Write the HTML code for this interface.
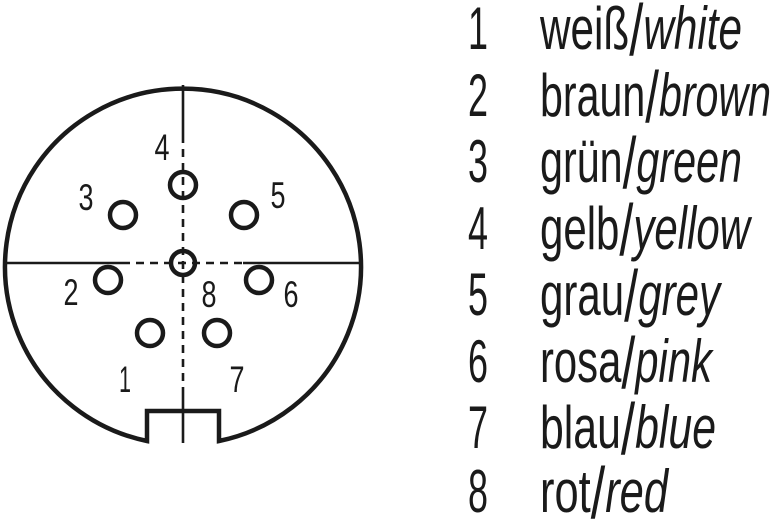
<!DOCTYPE html>
<html><head><meta charset="utf-8"><style>
html,body{margin:0;padding:0;background:#fff;}
svg{display:block;}
text{font-family:"Liberation Sans",sans-serif;fill:#1a1a1a;}
</style></head><body>
<svg width="771" height="527" viewBox="0 0 771 527" xmlns="http://www.w3.org/2000/svg">
<g fill="none" stroke="#1a1a1a" stroke-width="4.5">
<path d="M147,441 A178,178 0 1 1 219,441 L219,411 L147,411 Z" stroke-linejoin="miter"/>
</g>
<g stroke="#1a1a1a" stroke-width="2.6" fill="none">
<line x1="5" y1="263" x2="122" y2="263"/>
<line x1="243" y1="263" x2="362" y2="263"/>
<line x1="122" y1="263" x2="243" y2="263" stroke-dasharray="8,6"/>
<line x1="183" y1="85" x2="183" y2="135"/>
<line x1="183" y1="135" x2="183" y2="395" stroke-dasharray="8,6"/>
<line x1="183" y1="395" x2="183" y2="443"/>
</g>
<g fill="none" stroke="#1a1a1a" stroke-width="4.5">
<circle cx="183" cy="185" r="13"/>
<circle cx="123" cy="215" r="13"/>
<circle cx="244" cy="215" r="13"/>
<circle cx="183" cy="263" r="12"/>
<circle cx="108" cy="280" r="13"/>
<circle cx="259" cy="280" r="13"/>
<circle cx="150" cy="333" r="13"/>
<circle cx="217" cy="333" r="13"/>
</g>
<g font-size="37" text-anchor="middle">
<text x="162" y="160" textLength="15" lengthAdjust="spacingAndGlyphs">4</text>
<text x="86" y="210" textLength="15" lengthAdjust="spacingAndGlyphs">3</text>
<text x="278" y="208" textLength="15" lengthAdjust="spacingAndGlyphs">5</text>
<text x="71" y="305" textLength="15" lengthAdjust="spacingAndGlyphs">2</text>
<text x="209" y="307" textLength="15" lengthAdjust="spacingAndGlyphs">8</text>
<text x="291" y="307" textLength="15" lengthAdjust="spacingAndGlyphs">6</text>
<text x="125" y="392" textLength="12" lengthAdjust="spacingAndGlyphs">1</text>
<text x="237" y="392" textLength="15" lengthAdjust="spacingAndGlyphs">7</text>
</g>
<g font-size="60">
<text x="468" y="49" textLength="20" lengthAdjust="spacingAndGlyphs">1</text>
<text x="468" y="116" textLength="20" lengthAdjust="spacingAndGlyphs">2</text>
<text x="468" y="182" textLength="20" lengthAdjust="spacingAndGlyphs">3</text>
<text x="468" y="249" textLength="20" lengthAdjust="spacingAndGlyphs">4</text>
<text x="468" y="315" textLength="20" lengthAdjust="spacingAndGlyphs">5</text>
<text x="468" y="382" textLength="20" lengthAdjust="spacingAndGlyphs">6</text>
<text x="468" y="448" textLength="20" lengthAdjust="spacingAndGlyphs">7</text>
<text x="468" y="512" textLength="20" lengthAdjust="spacingAndGlyphs">8</text>

<text x="540" y="49" textLength="202" lengthAdjust="spacingAndGlyphs">weiß<tspan font-size="72" dy="6">/</tspan><tspan font-style="italic" dy="-6">white</tspan></text>
<text x="540" y="116" textLength="231" lengthAdjust="spacingAndGlyphs">braun<tspan font-size="72" dy="6">/</tspan><tspan font-style="italic" dy="-6">brown</tspan></text>
<text x="540" y="182" textLength="202" lengthAdjust="spacingAndGlyphs">grün<tspan font-size="72" dy="6">/</tspan><tspan font-style="italic" dy="-6">green</tspan></text>
<text x="540" y="249" textLength="210" lengthAdjust="spacingAndGlyphs">gelb<tspan font-size="72" dy="6">/</tspan><tspan font-style="italic" dy="-6">yellow</tspan></text>
<text x="540" y="315" textLength="180" lengthAdjust="spacingAndGlyphs">grau<tspan font-size="72" dy="6">/</tspan><tspan font-style="italic" dy="-6">grey</tspan></text>
<text x="540" y="382" textLength="172" lengthAdjust="spacingAndGlyphs">rosa<tspan font-size="72" dy="6">/</tspan><tspan font-style="italic" dy="-6">pink</tspan></text>
<text x="540" y="448" textLength="176" lengthAdjust="spacingAndGlyphs">blau<tspan font-size="72" dy="6">/</tspan><tspan font-style="italic" dy="-6">blue</tspan></text>
<text x="540" y="512" textLength="128" lengthAdjust="spacingAndGlyphs">rot<tspan font-size="72" dy="6">/</tspan><tspan font-style="italic" dy="-6">red</tspan></text>
</g>
</svg>
</body></html>
